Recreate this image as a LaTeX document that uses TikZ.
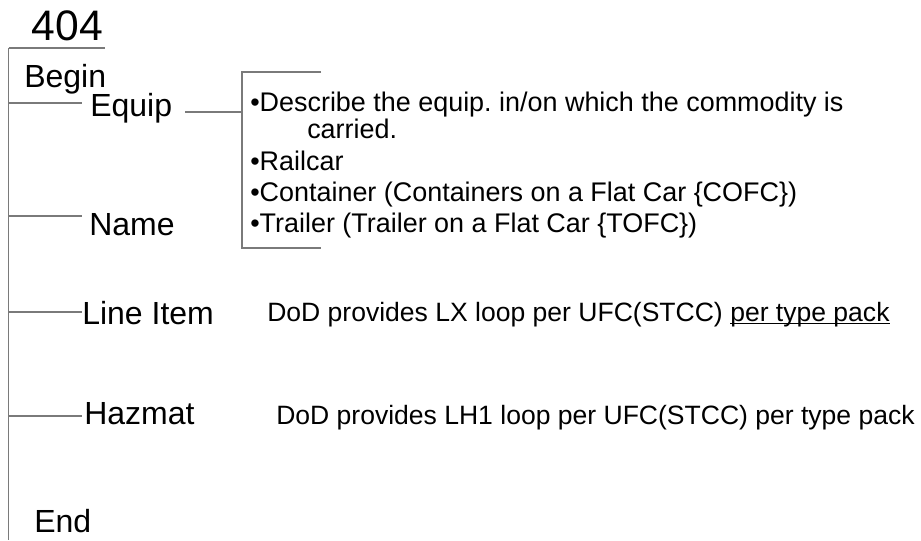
\documentclass[tikz,border=0pt]{standalone}
\usepackage{fontspec}
\setmainfont{Liberation Sans}
\usetikzlibrary{calc}
\frenchspacing
\definecolor{treegray}{HTML}{7A7A7A}
\newcommand{\ulpart}[1]{\setbox0\hbox{#1}\rlap{\rule[-2.4pt]{\wd0}{0.8pt}}\box0}
\tikzset{
      tree/.style={draw=treegray, line width=1pt},
      lbl/.style={font=\fontsize{24}{27}\selectfont, inner sep=0, anchor=base west},
      title/.style={font=\fontsize{32}{35}\selectfont, inner sep=0, anchor=base west},
      note/.style={font=\fontsize{20.2}{24}\selectfont, inner sep=0, anchor=base west},
      loopnote/.style={font=\fontsize{19.9}{24}\selectfont, inner sep=0, anchor=base west},
}
\begin{document}
\begin{tikzpicture}[x=0.75pt,y=-0.75pt]
        \useasboundingbox (0,0) rectangle (921,540);

        % the spine
        \coordinate (top) at (8.5,48);
        \coordinate (bot) at (8.5,540);
        \node[title] (num) at (31.5,40) {404};
        \draw[tree] (top) -- (bot);
        \draw[tree] (top) -- (105,48);

        % labels on the spine
        \node[lbl] (begin) at (24,87) {Begin};
        \node[lbl] (equip) at (90,116) {Equip};
        \node[lbl] (name) at (89,235) {Name};
        \node[lbl] (item) at (82,324) {Line Item};
        \node[lbl] (hazmat) at (84,424) {Hazmat};
        \node[lbl] (end) at (34,532) {End};

        % ticks off the spine
        \foreach \y/\n in {103/a,216/b,312/c,416/d}{
            \coordinate (s\n) at (8.5,\y);
            \coordinate (t\n) at (82,\y);
            \draw[tree] (s\n) -- (t\n);
        }

        % bracket round the equip notes
        \coordinate (brtop) at (242,72);
        \coordinate (brbot) at (242,248);
        \coordinate (brin) at (242,112);
        \coordinate (eqout) at (185,112);
        \draw[tree] ($(brtop)+(79,0)$) -- (brtop) -- (brbot) -- ($(brbot)+(79,0)$);
        \draw[tree] (eqout) -- (brin);

        \node[note] (n1) at (250,111) {•Describe the equip. in/on which the commodity is};
        \node[note] (n2) at (307,138) {carried.};
        \node[note] (n3) at (250,170) {•Railcar};
        \node[note] (n4) at (250,201) {•Container (Containers on a Flat Car \{COFC\})};
        \node[note] (n5) at (250,232) {•Trailer (Trailer on a Flat Car \{TOFC\})};

        % loops
        \node[loopnote] (lx) at (267,321) {DoD provides LX loop per UFC(STCC) \ulpart{per type pack}};
        \node[loopnote] (lh) at (276,424) {DoD provides LH1 loop per UFC(STCC) per type pack};

    \end{tikzpicture}
\end{document}
